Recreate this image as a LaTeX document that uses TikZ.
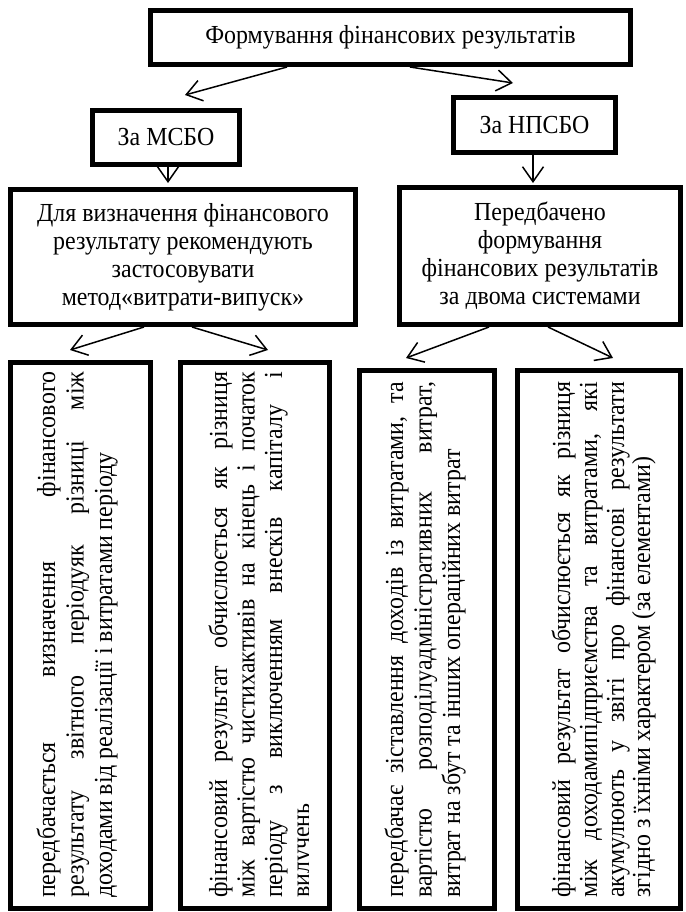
\documentclass[tikz,border=0pt]{standalone}
\usepackage{fontspec}
\setmainfont[FakeStretch=0.92]{Liberation Serif}
\usetikzlibrary{arrows.meta}
\begin{document}
\begin{tikzpicture}[x=1pt,y=1pt,
  box/.style={draw, line width=5pt, rectangle, inner sep=0pt, align=center,
    font=\fontsize{26}{28}\selectfont},
  arr/.style={line width=1.5pt, -{Straight Barb[length=15pt,width=21pt,line width=1.5pt]}},
  vline/.style={rotate=90, inner sep=0pt, anchor=base west, font=\fontsize{26}{28}\selectfont},
]
\path[use as bounding box] (0,0) rectangle (685,-912);

% level 0
\node[box, minimum width=480pt, minimum height=54pt] (top) at (390.5,-37.5) {Формування фінансових результатів};

% level 1
\node[box, minimum width=147pt, minimum height=54pt] (msbo) at (166,-137.5) {За МСБО};
\node[box, minimum width=162pt, minimum height=55pt] (npsbo) at (534.5,-125) {За НПСБО};

% level 2
\node[box, minimum width=345pt, minimum height=135pt] (left) at (183,-257)
  {Для визначення фінансового\\результату рекомендують\\застосовувати\\метод«витрати-випуск»};
\node[box, minimum width=281pt, minimum height=137pt] (right) at (540,-256)
  {Передбачено\\формування\\фінансових результатів\\за двома системами};

% level 3 boxes
\node[box, minimum width=140pt, minimum height=546pt] (b1) at (80.5,-635.5) {};
\node[box, minimum width=149pt, minimum height=546pt] (b2) at (255,-635.5) {};
\node[box, minimum width=135pt, minimum height=538pt] (b3) at (427,-639.5) {};
\node[box, minimum width=163pt, minimum height=538pt] (b4) at (599,-639.5) {};

% level 3 texts, one node per line
\node[vline] (t1a) at (55,-898) {\makebox[526pt][s]{передбачається визначення фінансового}};
\node[vline] (t1b) at (83.5,-898) {\makebox[526pt][s]{результату звітного періодуяк різниці між}};
\node[vline] (t1c) at (112,-898) {доходами від реалізації і витратами періоду};

\node[vline] (t2a) at (227,-898) {\makebox[526pt][s]{фінансовий результат обчислюється як різниця}};
\node[vline] (t2b) at (254.5,-898) {\makebox[526pt][s]{між вартістю чистихактивів на кінець і початок}};
\node[vline] (t2c) at (282,-898) {\makebox[526pt][s]{періоду з виключенням внесків капіталу і}};
\begin{scope}
  \clip (285,-365) rectangle (308,-905);
  \node[vline] (t2d) at (309.5,-898) {вилучень};
\end{scope}

\node[vline] (t3a) at (403,-898) {\makebox[516pt][s]{передбачає зіставлення доходів із витратами, та}};
\node[vline] (t3b) at (431.5,-898) {\makebox[516pt][s]{вартістю розподілуадміністративних витрат,}};
\node[vline] (t3c) at (460,-898) {витрат на збут та інших операційних витрат};

\node[vline] (t4a) at (570,-898) {\makebox[516pt][s]{фінансовий результат обчислюється як різниця}};
\node[vline] (t4b) at (597,-898) {\makebox[516pt][s]{між доходамипідприємства та витратами, які}};
\node[vline] (t4c) at (624,-898) {\makebox[516pt][s]{акумулюють у звіті про фінансові результати}};
\node[vline] (t4d) at (650,-898) {згідно з їхніми характером (за елементами)};

% arrow ends
\coordinate (e1) at (185,-95);
\coordinate (e2) at (513,-83);
\coordinate (e3) at (168,-183);
\coordinate (e4) at (533,-183);
\coordinate (e5) at (70,-350);
\coordinate (e6) at (268,-350);
\coordinate (e7) at (406,-358);
\coordinate (e8) at (613,-358);

% connectors
\draw[arr] ([xshift=-103.5pt]top.south) -- (e1);
\draw[arr] ([xshift=19.5pt]top.south) -- (e2);
\draw[arr] ([xshift=2pt]msbo.south) -- (e3);
\draw[arr] ([xshift=-1.5pt]npsbo.south) -- (e4);
\draw[arr] ([xshift=-39pt]left.south) -- (e5);
\draw[arr] ([xshift=9pt]left.south) -- (e6);
\draw[arr] ([xshift=-51pt]right.south) -- (e7);
\draw[arr] ([xshift=8pt]right.south) -- (e8);
\end{tikzpicture}
\end{document}
